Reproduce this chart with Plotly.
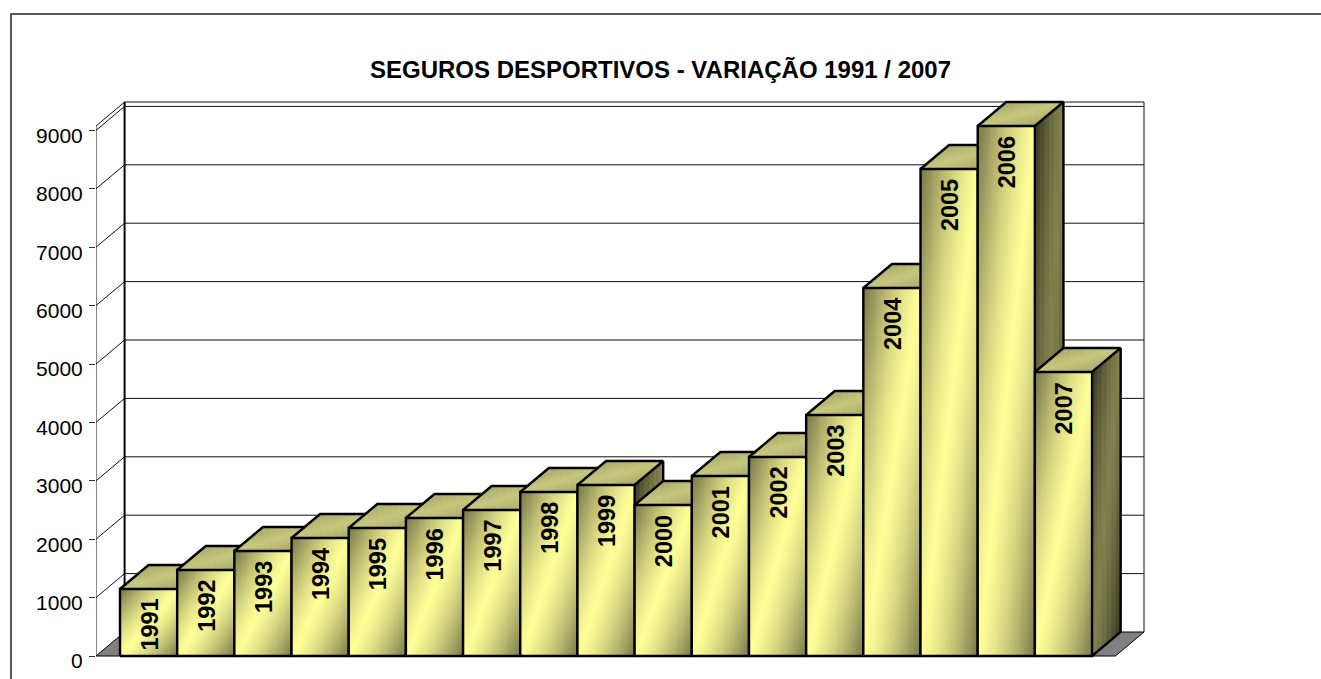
import math
import plotly.graph_objects as go

years = ["1991","1992","1993","1994","1995","1996","1997","1998","1999","2000","2001","2002","2003","2004","2005","2006","2007"]
values = [1147,1473,1798,2021,2192,2363,2500,2808,2928,2586,3082,3408,4127,6301,8339,9075,4863]
tick_values = [0,1000,2000,3000,4000,5000,6000,7000,8000,9000]
title = "SEGUROS DESPORTIVOS - VARIAÇÃO 1991 / 2007"

W, H = 1321, 679
PL, PR, PT, PB = 96, 1150, 95, 662      # plot rectangle, px
XPX, X0 = 57.18, 120.0                  # px per category, left px of first bar
YPX, Y0 = 0.0584, 656.0                 # px per value unit, px of value 0
xr = [(PL-X0)/XPX-0.5, (PR-X0)/XPX-0.5]
yr = [(Y0-PB)/YPX, (Y0-PT)/YPX]
DX = 0.5                                # 3-D depth in category units
DV = 24/YPX                             # 3-D depth in value units
AXTOP = max(values)
WALL_R = (1144-X0)/XPX-0.5-DX

def rgb(c): return tuple(int(c[i:i+2],16) for i in (1,3,5))
def grad(t, end, mid):
    a, b = rgb(end), rgb(mid)
    g = 1-abs(2*t-1)
    f = 0.5*g + 0.5*math.sin(math.pi/2*g)
    return "rgb(%d,%d,%d)" % tuple(round(a[i]+(b[i]-a[i])*f) for i in range(3))

def strip_scale(u, end, mid):
    pts = sorted(set([c/8 for c in range(9)]+[round(max(0,min(1,1-u)),4)]))
    return [[p, grad((u+p)/2, end, mid)] for p in pts]

FRONT_SCALE = [[c/24, grad(c/24, "#77774A", "#FFFF99")] for c in range(25)]

fig = go.Figure()

def add_axes(k):
    fig.update_layout(**{
        f"xaxis{k}": dict(overlaying="x", visible=False, range=xr, fixedrange=True),
        f"yaxis{k}": dict(overlaying="y", visible=False, range=yr, fixedrange=True),
    })

# walls and floor
L = xr[0]
fig.add_trace(go.Scatter(x=[L,L+DX,WALL_R+DX,WALL_R,L], y=[0,DV,DV,0,0], fill="toself", fillcolor="#808080",
                         mode="lines", line=dict(color="#000000", width=1), hoverinfo="skip", showlegend=False))
for tv in tick_values[1:]:
    fig.add_trace(go.Scatter(x=[L,L+DX,WALL_R+DX], y=[tv,tv+DV,tv+DV], mode="lines",
                             line=dict(color="#111111", width=1), hoverinfo="skip", showlegend=False))
fig.add_trace(go.Scatter(x=[L,L,L+DX,WALL_R+DX,WALL_R+DX], y=[0,AXTOP,AXTOP+DV,AXTOP+DV,DV], mode="lines",
                         line=dict(color="#111111", width=1), hoverinfo="skip", showlegend=False))
fig.add_trace(go.Scatter(x=[L+DX,L+DX], y=[DV,AXTOP+DV], mode="lines",
                         line=dict(color="#000000", width=2), hoverinfo="skip", showlegend=False))

NF_X, NF_Y = 24, 48
TOP_N, SIDE_N = 12, 6
annots = []
for i, v in enumerate(values):
    k = i+2
    add_axes(k)
    xa, ya = f"x{k}", f"y{k}"
    l, r = i-0.5, i+0.5
    # front face
    xs = [l+(r-l)*c/NF_X for c in range(NF_X+1)]
    ys = [v*c/NF_Y for c in range(NF_Y+1)]
    z = [[((c+.5)/NF_X + 1-(j+.5)/NF_Y)/2 for c in range(NF_X)] for j in range(NF_Y)]
    fig.add_trace(go.Heatmap(x=xs, y=ys, z=z, zmin=0, zmax=1, zsmooth="best", showscale=False, hoverinfo="skip",
                             colorscale=FRONT_SCALE, xaxis=xa, yaxis=ya))
    # side face
    for s in range(SIDE_N):
        x1 = r+DX*s/SIDE_N
        x2 = min(r+DX, r+DX*(s+1)/SIDE_N+0.012)
        yb = lambda x: (x-r)/DX*DV
        fig.add_trace(go.Scatter(x=[x1,x2,x2,x1,x1], y=[yb(x1),yb(x2),v+yb(x2),v+yb(x1),yb(x1)],
                                 fill="toself", mode="none", hoverinfo="skip", showlegend=False, xaxis=xa, yaxis=ya,
                                 fillgradient=dict(type="vertical", start=v+DV, stop=0,
                                                   colorscale=strip_scale((s+.5)/SIDE_N, "#2E2E1B", "#82824E"))))
    # top face
    def lo(x): return v if x <= r else v+(x-r)/DX*DV
    def up(x): return v+(x-l)/DX*DV if x <= l+DX else v+DV
    for s in range(TOP_N):
        x1 = l+(1+DX)*s/TOP_N
        x2 = min(r+DX, l+(1+DX)*(s+1)/TOP_N+0.012)
        fig.add_trace(go.Scatter(x=[x1,x2,x2,x1,x1], y=[lo(x1),lo(x2),up(x2),up(x1),lo(x1)],
                                 fill="toself", mode="none", hoverinfo="skip", showlegend=False, xaxis=xa, yaxis=ya,
                                 fillgradient=dict(type="vertical", start=v+DV, stop=v,
                                                   colorscale=strip_scale((s+.5)/TOP_N, "#8C8C58", "#C6C67E"))))
    # outlines
    fig.add_trace(go.Scatter(x=[l,r,r,l,l,None,l,l+DX,r+DX,r,None,r+DX,r+DX,r],
                             y=[0,0,v,v,0,None,v,v+DV,v+DV,v,None,v+DV,DV,0],
                             mode="lines", line=dict(color="#000000", width=2.4), hoverinfo="skip", showlegend=False,
                             xaxis=xa, yaxis=ya))
    annots.append(dict(x=i, y=v, xref="x", yref="y", text=f"<b>{years[i]}</b>", textangle=-90, showarrow=False,
                       xanchor="center", yanchor="top", yshift=-8, xshift=1,
                       font=dict(family="Liberation Sans", size=23.5, color="#000000")))

def px(x): return (x-PL)/(PR-PL)
def py(y): return (PB-y)/(PB-PT)

fig.update_layout(
    width=W, height=H, margin=dict(l=PL, r=W-PR, t=PT, b=H-PB, autoexpand=False),
    paper_bgcolor="#FFFFFF", plot_bgcolor="#FFFFFF", showlegend=False,
    title=dict(text=f"<b>{title}</b>", x=660.5/W, y=1-70/H, xanchor="center", yanchor="middle",
               font=dict(family="Liberation Sans", size=24, color="#000000")),
    xaxis=dict(range=xr, visible=False, fixedrange=True),
    yaxis=dict(range=yr, tickvals=tick_values, ticks="outside", ticklen=6, tickwidth=1, tickcolor="#333333",
               showgrid=False, zeroline=False, showline=False, fixedrange=True,
               ticklabelshift=5, ticklabelstandoff=2,
               tickfont=dict(family="Liberation Sans", size=21, color="#000000")),
    annotations=annots,
    shapes=[dict(type="path", xref="paper", yref="paper", layer="above",
                 path=f"M {px(11)} {py(679)} L {px(11)} {py(14)} L {px(1321)} {py(14)}",
                 line=dict(color="#222222", width=1.5))],
)
fig.write_html("out.html", config=dict(displayModeBar=False), post_script="document.body.style.margin='0';document.body.style.overflow='hidden';")
